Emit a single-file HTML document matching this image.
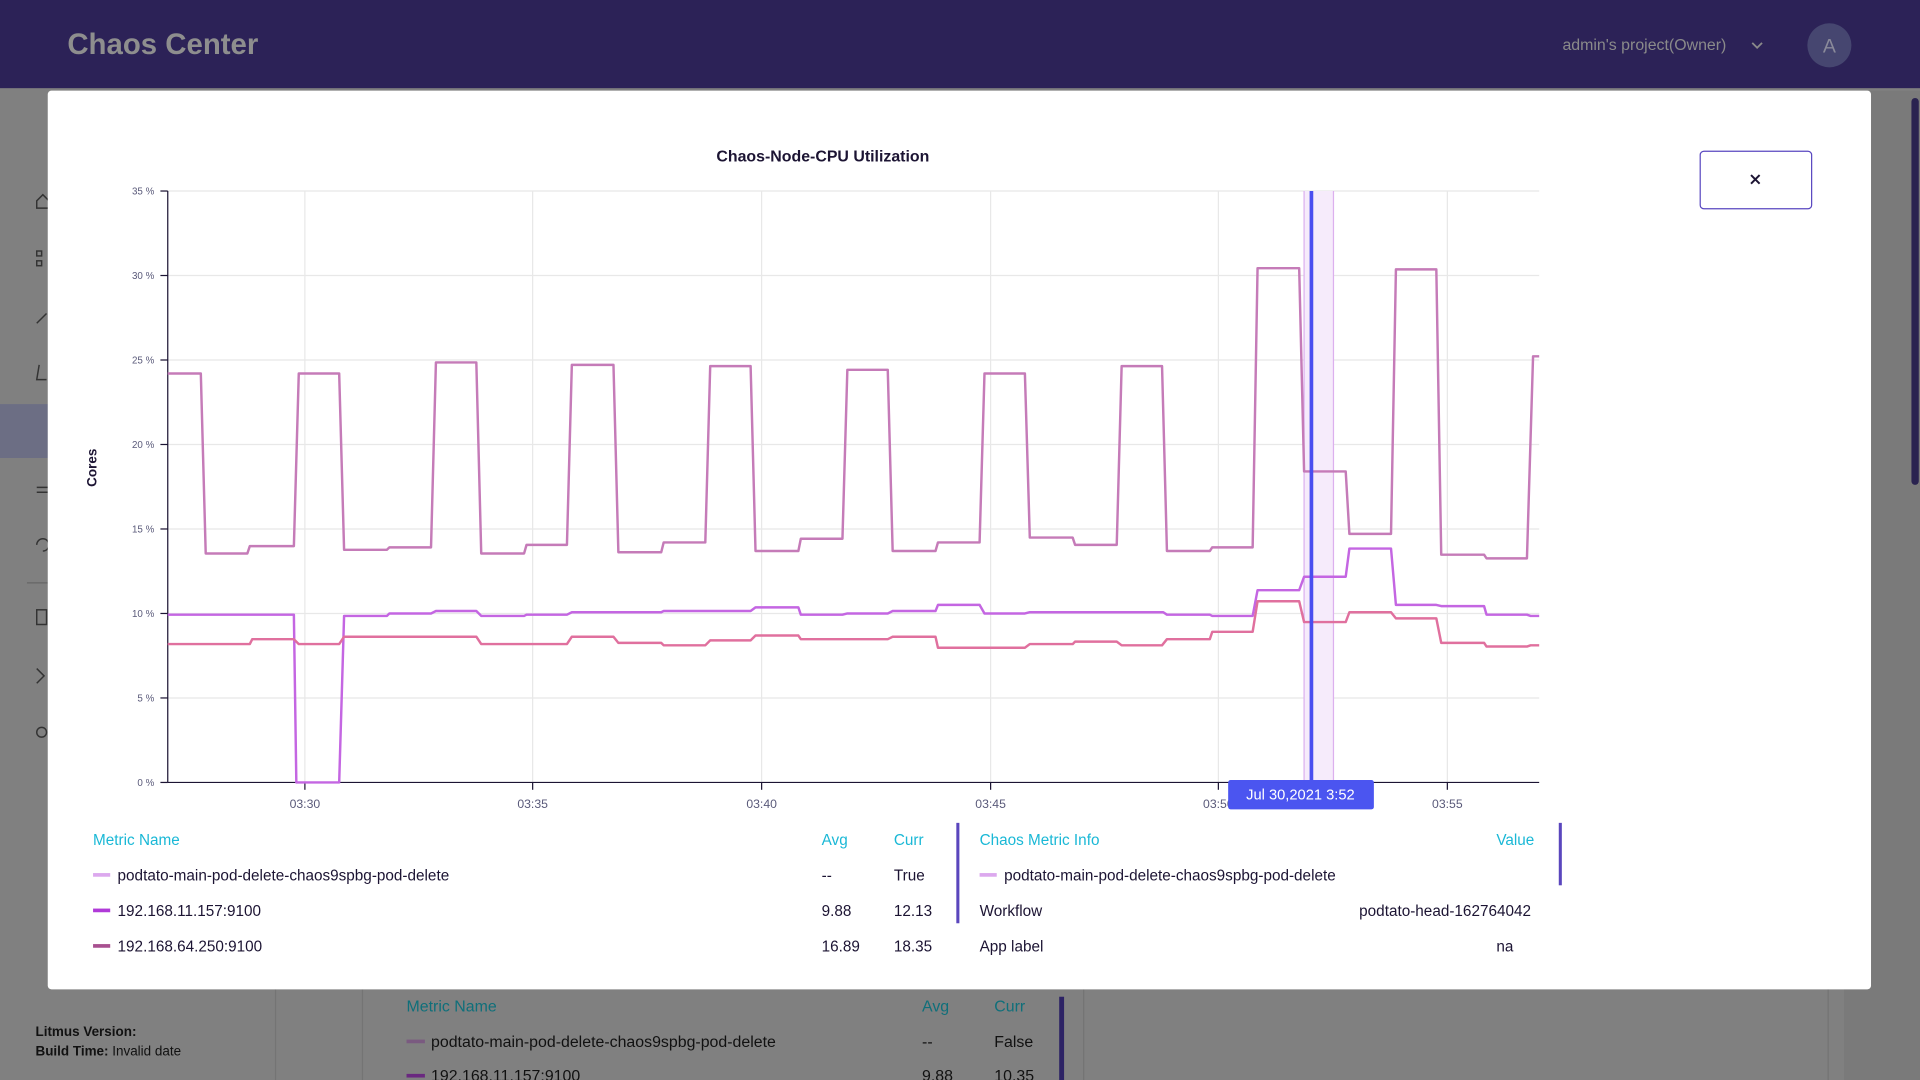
<!DOCTYPE html>
<html><head><meta charset="utf-8"><style>html,body{margin:0;padding:0;background:#808080;overflow:hidden}svg{display:block}text{font-family:"Liberation Sans",sans-serif}</style></head>
<body>
<svg width="1920" height="1080" viewBox="0 0 1568 882" xmlns="http://www.w3.org/2000/svg">
<rect width="1568" height="882" fill="#808080"/>
<!-- underlying page -->
<rect x="0" y="330" width="39" height="44" fill="#6c6e84"/>
<line x1="22" y1="476" x2="39" y2="476" stroke="#666" />
<line x1="225" y1="808" x2="225" y2="882" stroke="#747474"/>
<line x1="296" y1="808" x2="296" y2="882" stroke="#747474"/>
<line x1="885" y1="808" x2="885" y2="882" stroke="#747474"/>
<line x1="1493" y1="808" x2="1493" y2="882" stroke="#747474"/>
<rect x="1506" y="74" width="62" height="808" fill="#7a7a7a"/>
<rect x="1561" y="80" width="6" height="316" rx="3" fill="#2a2350"/>
<text x="29" y="846" font-size="11" font-weight="bold" fill="#111">Litmus Version:</text>
<text x="29" y="862" font-size="11" fill="#111"><tspan font-weight="bold">Build Time:</tspan> Invalid date</text>
<text x="332" y="826" font-size="13" fill="#0f6f7a">Metric Name</text>
<text x="753" y="826" font-size="13" fill="#0f6f7a">Avg</text>
<text x="812" y="826" font-size="13" fill="#0f6f7a">Curr</text>
<rect x="865" y="814" width="4" height="68" fill="#2d2365"/>
<rect x="332" y="849" width="15" height="3" fill="#7a5a80"/>
<text x="352" y="855" font-size="13" fill="#111">podtato-main-pod-delete-chaos9spbg-pod-delete</text>
<text x="753" y="855" font-size="13" fill="#111">--</text>
<text x="812" y="855" font-size="13" fill="#111">False</text>
<rect x="332" y="877" width="15" height="3" fill="#6a2880"/>
<text x="352" y="883" font-size="13" fill="#111">192.168.11.157:9100</text>
<text x="753" y="883" font-size="13" fill="#111">9.88</text>
<text x="812" y="883" font-size="13" fill="#111">10.35</text>
<!-- header -->
<rect x="0" y="0" width="1568" height="72" fill="#2c2257"/>
<text x="55" y="44" font-size="24" font-weight="bold" fill="#8e8e8e">Chaos Center</text>
<text x="1276" y="41" font-size="13" fill="#8a8a8a">admin's project(Owner)</text>
<path d="M1431 35 l4 4 l4 -4" fill="none" stroke="#8a8a8a" stroke-width="1.5"/>
<circle cx="1494" cy="37" r="18" fill="#464670"/>
<text x="1494" y="43" font-size="16" fill="#8a8a9a" text-anchor="middle">A</text>
<!-- sidebar icons (faint) -->
<g stroke="#333" fill="none" stroke-width="1.2">
<path d="M30 170 v-6 l5 -5 l5 5 v6z"/>
<rect x="30" y="205" width="4" height="4"/><rect x="30" y="213" width="4" height="4"/>
<path d="M30 264 l8 -8"/><path d="M32 298 l-2 12 h8"/>
<path d="M30 398 h9 M30 402 h9"/><path d="M30 445 a5 5 0 1 1 5 5"/>
<rect x="30" y="498" width="8" height="12"/><path d="M30 546 l6 6 l-6 6"/><circle cx="34" cy="598" r="4"/>
</g>
<!-- modal -->
<rect x="39" y="74" width="1489" height="734" rx="3" fill="#fff"/>
<text x="672" y="132" font-size="13" font-weight="bold" fill="#1c1433" text-anchor="middle">Chaos-Node-CPU Utilization</text>
<rect x="1388.5" y="123.5" width="91" height="47" rx="3" fill="#fff" stroke="#5a48c0"/>
<path d="M1430 143 l7 7 M1437 143 l-7 7" stroke="#1c1433" stroke-width="1.6"/>
<!-- grid -->
<g stroke="#e8e8e8" stroke-width="1">
<line x1="137" y1="156" x2="1257" y2="156"/><line x1="137" y1="225" x2="1257" y2="225"/>
<line x1="137" y1="294" x2="1257" y2="294"/><line x1="137" y1="363" x2="1257" y2="363"/>
<line x1="137" y1="432" x2="1257" y2="432"/><line x1="137" y1="501" x2="1257" y2="501"/>
<line x1="137" y1="570" x2="1257" y2="570"/>
<line x1="249" y1="156" x2="249" y2="639"/><line x1="435" y1="156" x2="435" y2="639"/>
<line x1="622" y1="156" x2="622" y2="639"/><line x1="809" y1="156" x2="809" y2="639"/>
<line x1="995" y1="156" x2="995" y2="639"/><line x1="1182" y1="156" x2="1182" y2="639"/>
</g>
<g font-size="8" fill="#5a5a7a" text-anchor="end">
<text x="126" y="159">35 %</text><text x="126" y="228">30 %</text><text x="126" y="297">25 %</text>
<text x="126" y="366">20 %</text><text x="126" y="435">15 %</text><text x="126" y="504">10 %</text>
<text x="126" y="573">5 %</text><text x="126" y="642">0 %</text>
</g>
<g stroke="#1c1433" stroke-width="1">
<line x1="137" y1="156" x2="137" y2="639"/><line x1="137" y1="639" x2="1257" y2="639"/>
<line x1="131" y1="156" x2="137" y2="156"/><line x1="131" y1="225" x2="137" y2="225"/><line x1="131" y1="294" x2="137" y2="294"/><line x1="131" y1="363" x2="137" y2="363"/><line x1="131" y1="432" x2="137" y2="432"/><line x1="131" y1="501" x2="137" y2="501"/><line x1="131" y1="570" x2="137" y2="570"/><line x1="131" y1="639" x2="137" y2="639"/>
<line x1="249" y1="639" x2="249" y2="645"/><line x1="435" y1="639" x2="435" y2="645"/><line x1="622" y1="639" x2="622" y2="645"/><line x1="809" y1="639" x2="809" y2="645"/><line x1="995" y1="639" x2="995" y2="645"/><line x1="1182" y1="639" x2="1182" y2="645"/>
</g>
<g font-size="10" fill="#5a5a7a" text-anchor="middle">
<text x="249" y="660">03:30</text><text x="435" y="660">03:35</text><text x="622" y="660">03:40</text><text x="809" y="660">03:45</text><text x="995" y="660">03:50</text><text x="1182" y="660">03:55</text>
</g>
<text transform="translate(79,382) rotate(-90)" font-size="11" font-weight="bold" fill="#1c1433" text-anchor="middle">Cores</text>
<!-- band -->
<rect x="1065" y="156" width="24" height="483" fill="#f6ebfb"/>
<line x1="1065" y1="156" x2="1065" y2="639" stroke="#dcb0ee"/>
<line x1="1089" y1="156" x2="1089" y2="639" stroke="#dcb0ee"/>
<!-- series -->
<g fill="none" stroke-width="2" stroke-linejoin="round">
<path stroke="#c57bb8" d="M137 305 H164 L168 452 H202 L204 446 H240 L244 305 H277 L281 449 H316 L318 447 H352 L356 296 H389 L393 452 H428 L430 445 H463 L467 298 H501 L505 451 H540 L542 443 H576 L580 299 H613 L617 450 H652 L654 440 H688 L692 302 H725 L729 450 H764 L766 443 H800 L804 305 H837 L841 439 H876 L878 445 H912 L916 299 H949 L953 450 H988 L990 447 H1023 L1027 219 H1061 L1065 385 H1099 L1102 436 H1136 L1140 220 H1173 L1177 453 H1212 L1214 456 H1247 L1252 291 H1257"/>
<path stroke="#c466e2" d="M137 502 H240 L242 639 H277 L281 503 H316 L318 501 H352 L356 499 H389 L393 503 H428 L430 502 H463 L467 500 H540 L542 499 H613 L617 496 H652 L654 502 H688 L692 501 H725 L729 499 H764 L766 494 H800 L804 501 H837 L841 500 H950 L953 502 H988 L990 503 H1023 L1027 482 H1061 L1065 471 H1099 L1102 448 H1136 L1140 494 H1173 L1177 495 H1212 L1214 502 H1247 L1250 503 H1257"/>
<path stroke="#e0709e" d="M137 526 H204 L206 522 H240 L244 526 H277 L281 520 H389 L393 526 H463 L467 520 H501 L505 525 H540 L542 527 H576 L580 523 H613 L617 519 H652 L654 522 H725 L729 520 H764 L766 529 H837 L841 526 H876 L878 524 H912 L916 527 H949 L953 522 H988 L990 516 H1023 L1027 491 H1061 L1065 508 H1099 L1102 500 H1136 L1140 505 H1173 L1177 525 H1212 L1214 528 H1247 L1250 527 H1257"/>
</g>
<line x1="1071" y1="156" x2="1071" y2="639" stroke="#4a4ef0" stroke-width="3"/>
<rect x="1003" y="637" width="119" height="24" rx="2" fill="#4b55f0"/>
<text x="1062" y="653" font-size="12" fill="#fff" text-anchor="middle">Jul 30,2021 3:52</text>
<!-- tables -->
<g font-size="12.5" fill="#1ab8d6">
<text x="76" y="690">Metric Name</text><text x="671" y="690">Avg</text><text x="730" y="690">Curr</text>
<text x="800" y="690">Chaos Metric Info</text><text x="1222" y="690">Value</text>
</g>
<rect x="781" y="672" width="2.5" height="82" fill="#5a46bd"/>
<rect x="1273" y="672" width="2.5" height="51" fill="#5a46bd"/>
<g font-size="12.5" fill="#1c1433">
<rect x="76" y="713" width="14" height="3" fill="#dca8ee"/>
<text x="96" y="719">podtato-main-pod-delete-chaos9spbg-pod-delete</text>
<text x="671" y="719">--</text><text x="730" y="719">True</text>
<rect x="76" y="742" width="14" height="3" fill="#b03ad8"/>
<text x="96" y="748">192.168.11.157:9100</text>
<text x="671" y="748">9.88</text><text x="730" y="748">12.13</text>
<rect x="76" y="771" width="14" height="3" fill="#a85090"/>
<text x="96" y="777">192.168.64.250:9100</text>
<text x="671" y="777">16.89</text><text x="730" y="777">18.35</text>
<rect x="800" y="713" width="14" height="3" fill="#dca8ee"/>
<text x="820" y="719">podtato-main-pod-delete-chaos9spbg-pod-delete</text>
<text x="800" y="748">Workflow</text><text x="1110" y="748">podtato-head-162764042</text>
<text x="800" y="777">App label</text><text x="1222" y="777">na</text>
</g>
</svg>
</body></html>
